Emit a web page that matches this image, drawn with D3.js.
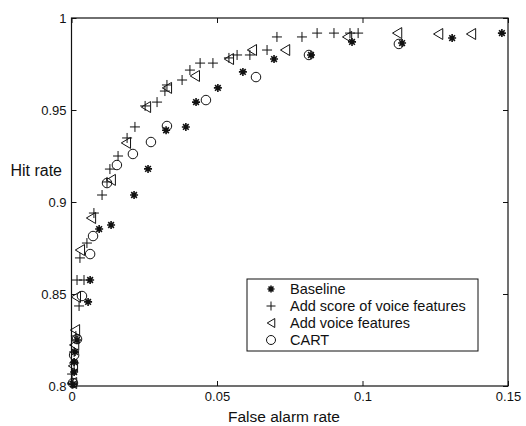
<!DOCTYPE html>
<html>
<head>
<meta charset="utf-8">
<script src="https://cdn.jsdelivr.net/npm/d3@7"></script>
<style>
  body { margin: 0; background: #fff; }
  svg { font-family: "Liberation Sans", Arial, sans-serif; }
</style>
</head>
<body>
<div id="chart"></div>
<script>
// Data: [false alarm rate, hit rate]
var baseline = [[0.0005,0.801],[0.0009,0.8076],[0.0009,0.813],[0.0012,0.8185],[0.0019,0.825],
  [0.0057,0.8457],[0.0064,0.8576],[0.0095,0.8853],[0.0136,0.8875],[0.0215,0.9038],[0.0263,0.918],
  [0.0325,0.939],[0.0393,0.9408],[0.0428,0.9543],[0.0503,0.962],[0.0589,0.9707],[0.0696,0.9777],
  [0.0823,0.9799],[0.0964,0.987],[0.1136,0.9864],[0.1308,0.9891],[0.1479,0.9918]];
var scoreVoice = [[0.0002,0.8011],[0.0002,0.8065],[0.0009,0.8125],[0.0009,0.8185],[0.0015,0.8272],
  [0.0026,0.8435],[0.0019,0.8576],[0.0043,0.8576],[0.0029,0.8696],[0.0053,0.8777],[0.0077,0.894],
  [0.0105,0.9038],[0.0122,0.9109],[0.0132,0.9179],[0.016,0.925],[0.0191,0.9348],[0.0218,0.9408],
  [0.0253,0.9522],[0.0294,0.9543],[0.0321,0.9603],[0.0328,0.9636],[0.038,0.9663],[0.0407,0.9717],
  [0.0442,0.9755],[0.0486,0.9755],[0.0541,0.9783],[0.0569,0.9799],[0.0613,0.9799],[0.0672,0.9826],
  [0.0706,0.9897],[0.0792,0.9897],[0.0844,0.9918],[0.0902,0.9918],[0.0957,0.9918],[0.0985,0.9918]];
var voiceFeat = [[0.0002,0.8016],[0.0005,0.8109],[0.0009,0.8223],[0.0012,0.8304],[0.0015,0.8484],
  [0.0029,0.8739],[0.0067,0.8913],[0.0135,0.912],[0.0187,0.9321],[0.0256,0.9516],[0.0328,0.962],
  [0.0424,0.9685],[0.0541,0.9777],[0.062,0.9826],[0.0734,0.9826],[0.0947,0.9897],[0.1119,0.9918],
  [0.126,0.9913],[0.1373,0.9913]];
var cart = [[0.0005,0.8016],[0.0009,0.8168],[0.0019,0.8255],[0.0036,0.8489],[0.0064,0.8717],
  [0.0074,0.8815],[0.0122,0.9103],[0.0156,0.9201],[0.0211,0.9261],[0.0273,0.9326],[0.0328,0.9413],
  [0.0462,0.9554],[0.0634,0.9679],[0.0816,0.9799],[0.1125,0.9859]];

var seriesNames = ["Baseline", "Add score of voice features", "Add voice features", "CART"];
var xTicks = [0, 0.05, 0.1, 0.15];
var xTickLabels = ["0", "0.05", "0.1", "0.15"];
var yTicks = [0.8, 0.85, 0.9, 0.95, 1];
var yTickLabels = ["0.8", "0.85", "0.9", "0.95", "1"];

// Sizes
var width = 526, height = 426;
var plot = {left: 71.5, right: 508, top: 18, bottom: 386};

var svg = d3.select("#chart").append("svg")
    .attr("width", width)
    .attr("height", height);

var x = d3.scaleLinear().domain([0, 0.15]).range([plot.left, plot.right]);
var y = d3.scaleLinear().domain([0.8, 1]).range([plot.bottom, plot.top]);

// Axes with inward ticks on all four sides
function styleAxis(g) {
    g.select(".domain").remove();
    g.selectAll(".tick line").attr("stroke", "#111");
    g.selectAll(".tick text").attr("fill", "#111").style("font-size", "13px");
}
svg.append("g")
    .attr("transform", "translate(0," + plot.bottom + ")")
    .call(d3.axisBottom(x).tickValues(xTicks).tickSize(-5).tickPadding(6)
        .tickFormat((d, i) => xTickLabels[i]))
    .call(styleAxis);
svg.append("g")
    .attr("transform", "translate(0," + plot.top + ")")
    .call(d3.axisTop(x).tickValues(xTicks).tickSize(-5).tickFormat(""))
    .call(styleAxis);
svg.append("g")
    .attr("transform", "translate(" + plot.left + ",0)")
    .call(d3.axisLeft(y).tickValues(yTicks).tickSize(-5).tickPadding(5)
        .tickFormat((d, i) => yTickLabels[i]))
    .call(styleAxis);
svg.append("g")
    .attr("transform", "translate(" + plot.right + ",0)")
    .call(d3.axisRight(y).tickValues(yTicks).tickSize(-5).tickFormat(""))
    .call(styleAxis);

// Frame
svg.append("rect")
    .attr("x", plot.left).attr("y", plot.top)
    .attr("width", plot.right - plot.left).attr("height", plot.bottom - plot.top)
    .attr("fill", "none").attr("stroke", "#111").attr("stroke-width", 1.2);

// Axis titles
svg.append("text")
    .attr("x", 62).attr("y", 176)
    .attr("text-anchor", "end")
    .style("font-size", "16px").attr("fill", "#111")
    .text("Hit rate");
svg.append("text")
    .attr("x", 284).attr("y", 422)
    .attr("text-anchor", "middle")
    .style("font-size", "15.5px").attr("fill", "#111")
    .text("False alarm rate");

// Marker shapes (paths centred on 0,0)
var markers = [
    function asterisk(s) {
        var r = s / 2, d = r * Math.SQRT1_2;
        return "M" + (-r) + ",0L" + r + ",0M0," + (-r) + "L0," + r +
            "M" + (-d) + "," + (-d) + "L" + d + "," + d +
            "M" + (-d) + "," + d + "L" + d + "," + (-d);
    },
    function plus(s) {
        var r = s / 2;
        return "M" + (-r) + ",0L" + r + ",0M0," + (-r) + "L0," + r;
    },
    function leftTri(s) {
        var w = s * 0.42, h = s / 2;
        return "M" + (-w) + ",0L" + w + "," + (-h) + "L" + w + "," + h + "Z";
    },
    function circle(s) {
        var r = s / 2;
        return "M" + r + ",0A" + r + "," + r + " 0 1,1 " + (-r) + ",0A" + r + "," + r + " 0 1,1 " + r + ",0Z";
    }
];
var markerSize = [8, 10, 11, 9.5];
var markerWidth = [1.6, 1, 1, 1];
var allSeries = [baseline, scoreVoice, voiceFeat, cart];

allSeries.forEach(function (data, k) {
    svg.append("g").selectAll("path")
        .data(data)
        .join("path")
            .attr("transform", d => "translate(" + x(d[0]) + "," + y(d[1]) + ")")
            .attr("d", markers[k](markerSize[k]))
            .attr("fill", "none")
            .attr("stroke", "#111")
            .attr("stroke-width", markerWidth[k]);
});

// Legend
var legend = svg.append("g").attr("transform", "translate(247,279)");
legend.append("rect")
    .attr("width", 231).attr("height", 72)
    .attr("fill", "#fff").attr("stroke", "#111").attr("stroke-width", 1);
var rows = legend.selectAll("g.row")
    .data(seriesNames)
    .join("g")
        .attr("class", "row")
        .attr("transform", (d, i) => "translate(0," + (10 + i * 17) + ")");
rows.append("path")
    .attr("transform", "translate(24,0)")
    .attr("d", (d, i) => markers[i](i === 0 ? 7 : 9))
    .attr("fill", "none")
    .attr("stroke", "#111")
    .attr("stroke-width", (d, i) => i === 0 ? 1.6 : 1);
rows.append("text")
    .attr("x", 43).attr("dy", "0.36em")
    .style("font-size", "14.5px").attr("fill", "#111")
    .text(d => d);
</script>
</body>
</html>
